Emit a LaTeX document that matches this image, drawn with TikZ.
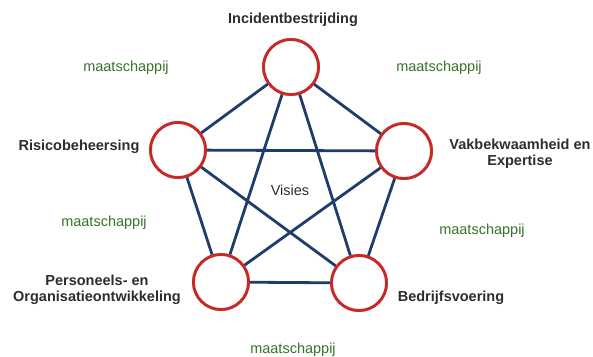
\documentclass[tikz,border=0pt]{standalone}
\usepackage{fontspec}
\setmainfont{Liberation Sans}
\definecolor{ringred}{RGB}{200,40,38}
\definecolor{linkblue}{RGB}{32,60,108}
\definecolor{labelgray}{RGB}{45,45,45}
\definecolor{soclgreen}{RGB}{55,115,40}
\begin{document}
\begin{tikzpicture}[x=1pt,y=-1pt,
  ring/.style={circle,draw=ringred,line width=2.8pt,fill=white,minimum size=55pt,inner sep=0pt},
  link/.style={draw=linkblue,line width=2.8pt},
  pillar/.style={font=\fontsize{14.5}{16.5}\selectfont\bfseries,text=labelgray,align=center,inner sep=0pt},
  society/.style={font=\fontsize{14.5}{16}\selectfont,text=soclgreen,inner sep=0pt}]
\useasboundingbox (0,0) rectangle (593,356);
\node[ring] (t) at (291,67) {};
\node[ring] (l) at (178,150) {};
\node[ring] (r) at (404,151) {};
\node[ring] (bl) at (221,282) {};
\node[ring] (br) at (359,283) {};
\path[link] (t) -- (l) (t) -- (r) (t) -- (bl) (t) -- (br)
  (l) -- (r) (l) -- (bl) (l) -- (br)
  (r) -- (bl) (r) -- (br) (bl) -- (br);
\node[ring] at (t) {};
\node[ring] at (l) {};
\node[ring] at (r) {};
\node[ring] at (bl) {};
\node[ring] at (br) {};
\node[pillar] (tl) at (293,20) {Incidentbestrijding};
\node[pillar] (ll) at (79,147) {Risicobeheersing};
\node[pillar] (rl) at (520,153.5) {Vakbekwaamheid en\\Expertise};
\node[pillar] (bll) at (97,290) {Personeels- en\\Organisatieontwikkeling};
\node[pillar] (brl) at (451,298) {Bedrijfsvoering};
\node[font=\fontsize{14.5}{16}\selectfont,text=labelgray] (v) at (290,190) {Visies};
\node[society] (s1) at (126,68) {maatschappij};
\node[society] (s2) at (439,68) {maatschappij};
\node[society] (s3) at (104,223) {maatschappij};
\node[society] (s4) at (482,231) {maatschappij};
\node[society] (s5) at (293,350) {maatschappij};
\end{tikzpicture}
\end{document}
